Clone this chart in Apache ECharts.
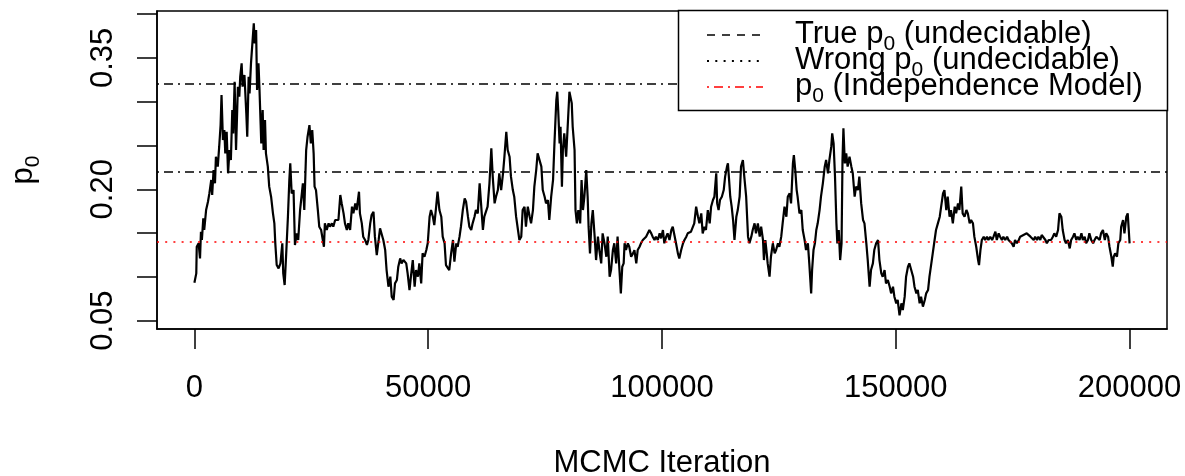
<!DOCTYPE html>
<html>
<head>
<meta charset="utf-8">
<script src="https://cdn.jsdelivr.net/npm/echarts@6.0.0/dist/echarts.min.js"></script>
<style>
  html, body { margin: 0; padding: 0; background: #fff; }
  #chart { width: 1185px; height: 476px; }
</style>
</head>
<body>
<div id="chart"></div>
<script>
// MCMC trace of p0
var iterations = [
  0, 400, 500, 900, 1200, 1400, 1600, 1900, 2100, 2500,
  2900, 3200, 3600, 3800, 4100, 4400, 4600, 5000, 5300, 5600,
  5800, 6100, 6400, 6600, 6900, 7200, 7500, 7800, 8100, 8300,
  8600, 8900, 9300, 9600, 9800, 10100, 10300, 10700, 11100, 11300,
  11600, 11800, 12100, 12500, 12700, 12900, 13200, 13400, 13700, 13900,
  14300, 14600, 14800, 15100, 15300, 15700, 16000, 16400, 16800, 17100,
  17300, 17600, 18000, 18400, 18800, 19000, 19300, 19600, 20000, 20300,
  20500, 20800, 21200, 21500, 21900, 22200, 22600, 23000, 23200, 23500,
  23900, 24200, 24600, 24900, 25200, 25500, 25700, 26000, 26400, 26700,
  27100, 27500, 27700, 27900, 28300, 28700, 29000, 29400, 29700, 30100,
  30400, 30800, 31200, 31500, 31900, 32200, 32600, 32900, 33300, 33700,
  34000, 34400, 34700, 35200, 35400, 35800, 36100, 36500, 36900, 37200,
  37600, 37900, 38300, 38600, 39000, 39400, 39700, 40100, 40400, 40800,
  41100, 41500, 41900, 42200, 42600, 42900, 43300, 43600, 44000, 44300,
  44700,
  45300, 45600, 46000, 46300, 46700, 47100, 47400, 47800, 48100, 48500,
  48800, 49200, 49600, 49900, 50300, 50600, 51000, 51300, 51700, 52000,
  52400, 52800, 53100, 53500, 53800, 54200, 54500, 54900, 55300, 55600,
  56000, 56300, 56700, 57000, 57400, 57800, 58100, 58500, 58800, 59200,
  59500, 59900, 60200, 60600, 61000, 61300, 61700, 62000, 62400, 62700,
  63100, 63500, 63800, 64200, 64500, 64900, 65200, 65600, 66000, 66300,
  66700, 67000, 67400, 67700, 68100, 68400, 68800, 69200, 69500, 69900,
  70200, 70600, 70900, 71300, 71700, 72000, 72400, 72700, 73100, 73400,
  74200, 74500, 74900, 75200, 75600, 75900, 76300, 76700, 77000, 77400,
  77600, 77800, 78100, 78300, 78600, 78800, 79100, 79500, 79900, 80200,
  80400, 80700, 80900, 81300, 81500, 81800, 82100, 82500, 82800, 83100,
  83400, 83800, 84100, 84300, 84600, 84900, 85200, 85600, 85900, 86300,
  86600, 87000, 87300, 87700, 88100, 88400, 88800, 89100, 89500, 89800,
  90200, 90500, 90900, 91200, 91500, 91800, 92000, 92300, 92700, 93000,
  93400, 93800, 94100, 94500, 94800, 95200, 95500, 95900, 96300, 96600,
  97000, 97300, 97700, 98000, 98400, 98700, 99100, 99500, 99800, 100200,
  100500, 100900, 101200, 101600, 102000, 102300,
  103000, 103400, 103700, 104100, 104500, 104800, 105200, 105500, 105900, 106200,
  106600, 106900, 107300, 107700, 108000, 108400, 108700, 109100, 109400, 109800,
  110200, 110500, 110900, 111200, 111600, 111800, 112100, 112400, 112800, 113200,
  113500, 113900, 114100, 114300, 114600, 114900, 115200, 115500, 115900, 116200,
  116600, 116900, 117300, 117600, 118000, 118400, 118700, 119100, 119400, 119800,
  120100, 120500, 120900, 121200, 121600, 121800, 122100, 122400, 122600, 123000,
  123300, 123700, 124100, 124400, 124800, 125100, 125500, 125800, 126200, 126600,
  126900, 127300, 127600, 128000, 128200, 128500, 128800, 129000, 129400, 129800,
  130100, 130500, 130800, 131200, 131500,
  131900, 132100, 132400, 132700, 133000, 133300, 133700, 134000, 134400, 134800,
  135100, 135500, 135800, 136200, 136400, 136700, 137000, 137300, 137500, 137800,
  138100, 138400, 138600, 138800, 139100, 139400, 139700, 140100, 140500, 140800,
  141200, 141500, 141900, 142200, 142600, 143000, 143300, 143700, 144000, 144400,
  144700, 145100, 145400, 145800, 146200, 146500, 146900, 147200, 147600, 147900,
  148300, 148700, 149000, 149400, 149700, 150100, 150400, 150800, 151200, 151500,
  151900, 152200, 152600, 152900, 153300, 153700, 154000, 154400, 154700, 155100,
  155400, 155800, 156200, 156500, 156900, 157200, 157600, 157900, 158300, 158600,
  159000, 159400, 159700, 160100, 160400,
  160800, 161100, 161500, 161800, 162200, 162600, 162900, 163300, 163600, 164000,
  164300, 164700, 165100, 165400, 165800, 166100, 166500, 166800, 167200, 167600,
  167800, 168100, 168400, 168800, 169100, 169500, 169800, 170200, 170600, 170900,
  171300, 171600, 172000, 172300, 172700, 173000, 173400, 173800, 174100, 174500,
  174800, 175200, 175500, 175900, 176300, 176600, 177000, 177300, 177700, 178000,
  178400, 178800, 179100, 179500, 179800, 180200, 180500, 180900, 181200, 181600,
  182000, 182300, 182700,
  183200, 183600, 183900, 184300, 184700, 185000, 185400, 185700, 186100, 186400,
  186800, 187200, 187500, 187900, 188200, 188600, 188900, 189300, 189700, 190000,
  190400, 190700, 191100, 191400, 191800, 192200, 192500, 192900, 193200, 193600,
  193900, 194300, 194700, 195000, 195400, 195700, 196100, 196400, 196600, 196900,
  197300, 197600, 198000, 198200, 198600, 198900, 199300, 199600, 200000
];

var p0Trace = [
  0.0934, 0.1040, 0.1344, 0.1383, 0.1211, 0.1516, 0.1421, 0.1668, 0.1535, 0.1763,
  0.1858, 0.1953, 0.2106, 0.1934, 0.2220, 0.2068, 0.2372, 0.2258, 0.2486, 0.2733,
  0.3076, 0.2562, 0.2676, 0.2410, 0.2657, 0.2182, 0.2448, 0.2334, 0.2904, 0.2638,
  0.3228, 0.2448, 0.3171, 0.3057, 0.3285, 0.3437, 0.3171, 0.3304, 0.2866, 0.2600,
  0.3285, 0.3095, 0.3437, 0.3742, 0.3894, 0.3666, 0.3818, 0.3133, 0.3437, 0.3171,
  0.2524, 0.2904, 0.2448, 0.2790, 0.2410, 0.2258, 0.2030, 0.1915, 0.1725, 0.1611,
  0.1383, 0.1135, 0.1097, 0.1154, 0.1383, 0.1040, 0.0907, 0.1230, 0.1687, 0.2106,
  0.2296, 0.1953, 0.1991, 0.1364, 0.1497, 0.1421, 0.1763, 0.1763, 0.2068, 0.1763,
  0.2448, 0.2600, 0.2733, 0.2524, 0.2676, 0.2410, 0.2030, 0.1991, 0.1763, 0.1573,
  0.1535, 0.1535, 0.1344, 0.1611, 0.1535, 0.1611, 0.1573, 0.1611, 0.1573, 0.1649,
  0.1649, 0.1649, 0.1934, 0.1839, 0.1725, 0.1611, 0.1535, 0.1611, 0.1535, 0.1801,
  0.1725, 0.1839, 0.1763, 0.1972, 0.1725, 0.1611, 0.1459, 0.1421, 0.1364, 0.1421,
  0.1611, 0.1706, 0.1744, 0.1459, 0.1249, 0.1421, 0.1554, 0.1535, 0.1421, 0.1306,
  0.1078, 0.0888, 0.1002, 0.0774, 0.0736, 0.0926, 0.0964, 0.1116, 0.1211, 0.1154,
  0.1192,
  0.1154, 0.1040, 0.0850, 0.1002, 0.1192, 0.0888, 0.1078, 0.1002, 0.1154, 0.0926,
  0.1268, 0.1230, 0.1306, 0.1383, 0.1687, 0.1763, 0.1687, 0.1592, 0.1801, 0.1972,
  0.1763, 0.1687, 0.1459, 0.1383, 0.1135, 0.1154, 0.1078, 0.1268, 0.1421, 0.1173,
  0.1383, 0.1344, 0.1459, 0.1573, 0.1763, 0.1896, 0.1858, 0.1687, 0.1573, 0.1535,
  0.1611, 0.1687, 0.1763, 0.1725, 0.2068, 0.1839, 0.1535, 0.1687, 0.1687, 0.1801,
  0.2068, 0.2467, 0.2144, 0.1839, 0.1915, 0.1991, 0.2182, 0.1991, 0.2182, 0.2372,
  0.2657, 0.2448, 0.2372, 0.2144, 0.1991, 0.1915, 0.1687, 0.1535, 0.1421, 0.1459,
  0.1763, 0.1801, 0.1573, 0.1801, 0.1687, 0.1611, 0.1763, 0.2030, 0.2220, 0.2410,
  0.2258, 0.1991, 0.1915, 0.1839, 0.1877, 0.1649, 0.1915, 0.2106, 0.2524, 0.3019,
  0.3114, 0.2904, 0.2524, 0.2714, 0.2030, 0.2448, 0.2638, 0.2372, 0.2790, 0.3114,
  0.3133, 0.2981, 0.2714, 0.2448, 0.1763, 0.1611, 0.1763, 0.1611, 0.2106, 0.1763,
  0.1915, 0.2220, 0.1915, 0.1573, 0.1268, 0.1611, 0.1763, 0.1459, 0.1192, 0.1459,
  0.1306, 0.1154, 0.1497, 0.1383, 0.1230, 0.1459, 0.1002, 0.1078, 0.1306, 0.1383,
  0.1154, 0.1459, 0.1078, 0.0812, 0.1116, 0.1154, 0.1383, 0.1306, 0.1383, 0.1344,
  0.1230, 0.1268, 0.1306, 0.1154, 0.1306, 0.1344, 0.1383, 0.1421, 0.1421, 0.1459,
  0.1459, 0.1535, 0.1497, 0.1459, 0.1421, 0.1459, 0.1421, 0.1497, 0.1440, 0.1535,
  0.1383, 0.1459, 0.1497, 0.1421, 0.1535, 0.1573,
  0.1383, 0.1268, 0.1211, 0.1306, 0.1383, 0.1421, 0.1459, 0.1497, 0.1497, 0.1516,
  0.1535, 0.1611, 0.1801, 0.1687, 0.1611, 0.1725, 0.1497, 0.1573, 0.1535, 0.1763,
  0.1611, 0.1801, 0.1877, 0.1915, 0.2182, 0.1839, 0.1763, 0.1877, 0.1915, 0.1991,
  0.2144, 0.2258, 0.2296, 0.2144, 0.1915, 0.1801, 0.1649, 0.1421, 0.1687, 0.1763,
  0.1915, 0.2258, 0.2334, 0.2144, 0.1915, 0.1459, 0.1383, 0.1459, 0.1535, 0.1611,
  0.1497, 0.1611, 0.1459, 0.1573, 0.1421, 0.1192, 0.1421, 0.1268, 0.1154, 0.1002,
  0.1230, 0.1383, 0.1268, 0.1306, 0.1383, 0.1344, 0.1459, 0.1611, 0.1801, 0.1687,
  0.1915, 0.1953, 0.1839, 0.2296, 0.2391, 0.2220, 0.1991, 0.1915, 0.1725, 0.1763,
  0.1535, 0.1421, 0.1306, 0.1383, 0.1154,
  0.0812, 0.1078, 0.1306, 0.1383, 0.1535, 0.1611, 0.1763, 0.1915, 0.2068, 0.2258,
  0.2334, 0.2182, 0.2334, 0.2486, 0.2638, 0.2524, 0.2144, 0.1611, 0.1383, 0.1535,
  0.1192, 0.1383, 0.2334, 0.2695, 0.2296, 0.2410, 0.2258, 0.2372, 0.2258, 0.2182,
  0.1915, 0.2030, 0.1991, 0.2144, 0.1839, 0.1649, 0.1611, 0.1383, 0.1192, 0.0888,
  0.1078, 0.1154, 0.1306, 0.1383, 0.1421, 0.1192, 0.1040, 0.1002, 0.1078, 0.0926,
  0.0964, 0.0888, 0.0812, 0.0888, 0.0774, 0.0698, 0.0736, 0.0560, 0.0698, 0.0622,
  0.0774, 0.1002, 0.1116, 0.1154, 0.1078, 0.1002, 0.0888, 0.0812, 0.0850, 0.0698,
  0.0774, 0.0660, 0.0736, 0.0812, 0.0850, 0.1002, 0.1154, 0.1268, 0.1421, 0.1535,
  0.1611, 0.1687, 0.1801, 0.1953, 0.1991,
  0.1763, 0.1915, 0.1687, 0.1763, 0.1611, 0.1801, 0.1725, 0.1839, 0.1763, 0.2030,
  0.1725, 0.1687, 0.1763, 0.1725, 0.1611, 0.1649, 0.1611, 0.1459, 0.1344, 0.1192,
  0.1135, 0.1306, 0.1421, 0.1459, 0.1421, 0.1459, 0.1421, 0.1459, 0.1421, 0.1459,
  0.1516, 0.1421, 0.1497, 0.1459, 0.1421, 0.1459, 0.1421, 0.1459, 0.1421, 0.1440,
  0.1383, 0.1344, 0.1421, 0.1383, 0.1421, 0.1459, 0.1459, 0.1478, 0.1459, 0.1497,
  0.1497, 0.1459, 0.1459, 0.1421, 0.1459, 0.1421, 0.1459, 0.1421, 0.1478, 0.1459,
  0.1421, 0.1383, 0.1421,
  0.1421, 0.1459, 0.1497, 0.1459, 0.1535, 0.1725, 0.1687, 0.1535, 0.1421, 0.1383,
  0.1421, 0.1325, 0.1421, 0.1459, 0.1497, 0.1421, 0.1459, 0.1421, 0.1497, 0.1421,
  0.1459, 0.1383, 0.1421, 0.1497, 0.1421, 0.1383, 0.1421, 0.1459, 0.1459, 0.1421,
  0.1497, 0.1535, 0.1421, 0.1497, 0.1459, 0.1344, 0.1230, 0.1116, 0.1230, 0.1268,
  0.1230, 0.1383, 0.1421, 0.1573, 0.1649, 0.1497, 0.1687, 0.1725, 0.1383
];

// horizontal reference lines: true p0, wrong p0, independence model p0
var trueP0 = 0.3164;
var wrongP0 = 0.2190;
var indepP0 = 0.1450;

var xTicks = [0, 50000, 100000, 150000, 200000];
var yTicks = [0.05, 0.10, 0.15, 0.20, 0.25, 0.30, 0.35, 0.40];
var yTickLabels = [0.05, 0.20, 0.35];

var legendTexts = [
  '{t|True p}{s|0}{t| (undecidable)}',
  '{t|Wrong p}{s|0}{t| (undecidable)}',
  '{t|p}{s|0}{t| (Independence Model)}'
];

if (iterations.length !== p0Trace.length) {
  console.error('trace arrays differ', iterations.length, p0Trace.length);
}

var traceData = iterations.map(function (it, i) {
  return [it, p0Trace[i]];
});

var FONT = '"Liberation Sans", Arial, sans-serif';
var dotDash = [2, 5, 9, 5];

var richSub = {
  t: { fontSize: 31, lineHeight: 31, fontFamily: FONT, color: '#000', verticalAlign: 'top' },
  s: { fontSize: 21, lineHeight: 21, fontFamily: FONT, color: '#000', verticalAlign: 'top', padding: [15, 0, 0, 0] }
};

var legendRows = [
  { y: 35, dash: [8, 7], color: '#000', width: 1.5 },
  { y: 61, dash: [2, 6.3], color: '#000', width: 2 },
  { y: 87, dash: dotDash, color: '#ff0000', width: 1.5 }
];

// legend box drawn on top of the plot, like R's legend()
var legendGraphics = [{
  type: 'rect',
  z: 100,
  shape: { x: 678.5, y: 10.5, width: 489, height: 100 },
  style: { fill: '#fff', stroke: '#000', lineWidth: 1.5 }
}];
legendRows.forEach(function (row, i) {
  legendGraphics.push({
    type: 'line',
    z: 101,
    shape: { x1: 707, y1: row.y, x2: 763, y2: row.y },
    style: { stroke: row.color, lineWidth: row.width, lineDash: row.dash }
  });
  legendGraphics.push({
    type: 'text',
    z: 101,
    x: 795,
    y: row.y - 16,
    style: {
      text: legendTexts[i],
      rich: richSub,
      textAlign: 'left',
      textVerticalAlign: 'top'
    }
  });
});

var chart = echarts.init(document.getElementById('chart'), null, { renderer: 'canvas' });

var option = {
  animation: false,
  backgroundColor: '#fff',
  grid: {
    left: 157,
    right: 18,
    top: 11,
    bottom: 147,
    show: true,
    borderColor: '#000',
    borderWidth: 1.5,
    containLabel: false,
    outerBoundsMode: 'none'
  },
  xAxis: {
    type: 'value',
    min: -8000,
    max: 208000,
    name: 'MCMC Iteration',
    nameLocation: 'middle',
    nameGap: 119,
    nameTextStyle: { fontSize: 31, fontFamily: FONT, color: '#000' },
    axisLine: { show: true, onZero: false, lineStyle: { color: '#000', width: 1.5 } },
    axisTick: {
      show: true,
      inside: false,
      length: 20,
      customValues: xTicks,
      lineStyle: { color: '#000', width: 1.5 }
    },
    axisLabel: {
      customValues: xTicks,
      margin: 44,
      fontSize: 31,
      fontFamily: FONT,
      color: '#000',
      formatter: function (v) { return String(v); }
    },
    splitLine: { show: false }
  },
  yAxis: {
    type: 'value',
    min: 0.0405,
    max: 0.4035,
    name: '{p|p}{s|0}',
    nameLocation: 'middle',
    nameGap: 118,
    nameRotate: 90,
    nameTextStyle: {
      rich: {
        p: { fontSize: 31, lineHeight: 31, fontFamily: FONT, color: '#000', verticalAlign: 'top' },
        s: { fontSize: 21, lineHeight: 21, fontFamily: FONT, color: '#000', verticalAlign: 'top', padding: [15, 0, 0, 0] }
      }
    },
    axisLine: { show: true, onZero: false, lineStyle: { color: '#000', width: 1.5 } },
    axisTick: {
      show: true,
      inside: false,
      length: 20,
      customValues: yTicks,
      lineStyle: { color: '#000', width: 1.5 }
    },
    axisLabel: {
      customValues: yTickLabels,
      rotate: 90,
      margin: 38,
      fontSize: 31,
      fontFamily: FONT,
      color: '#000',
      formatter: function (v) { return v.toFixed(2); }
    },
    splitLine: { show: false }
  },
  series: [
    {
      name: 'p0 trace',
      type: 'line',
      data: traceData,
      showSymbol: false,
      symbol: 'none',
      lineStyle: { color: '#000', width: 2.2 },
      z: 3
    },
    {
      name: 'reference',
      type: 'line',
      data: [],
      markLine: {
        silent: true,
        symbol: 'none',
        label: { show: false },
        data: [
          { yAxis: trueP0, lineStyle: { color: '#000', width: 1.5, type: dotDash } },
          { yAxis: wrongP0, lineStyle: { color: '#000', width: 1.5, type: dotDash } },
          { yAxis: indepP0, lineStyle: { color: '#ff0000', width: 1.5, type: [2, 6.2] } }
        ]
      },
      z: 2
    }
  ],
  graphic: legendGraphics
};

chart.setOption(option);
window.addEventListener('resize', function () {
  chart.resize();
});
</script>
</body>
</html>
